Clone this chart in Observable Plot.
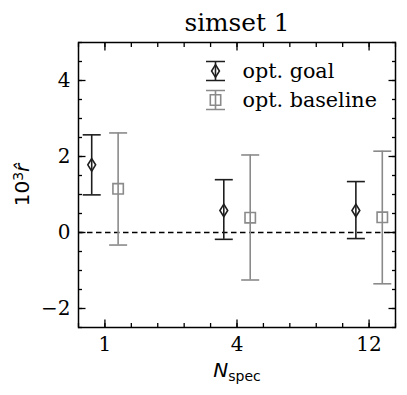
<!DOCTYPE html>
<html><head><meta charset="utf-8">
<script src="https://cdn.jsdelivr.net/npm/d3@7"></script>
<script src="https://cdn.jsdelivr.net/npm/@observablehq/plot@0.6"></script>
<style>body{margin:0;background:#fff}</style>
</head><body><div id="chart"></div>
<script>
// ---- data ----
const title = "simset 1";
const nspec = ["1", "4", "12"];
const series = ["opt. goal", "opt. baseline"];
const goalMid = [1.78, 0.58, 0.58];
const goalLo = [0.99, -0.18, -0.16];
const goalHi = [2.57, 1.39, 1.34];
const baseMid = [1.15, 0.39, 0.40];
const baseLo = [-0.33, -1.25, -1.35];
const baseHi = [2.62, 2.04, 2.14];
const yTicks = [-2, 0, 2, 4];

// ---- styling ----
const colors = ["#1e1e1e", "#8a8a8a"];
const dodge = [-0.1, 0.1];
const sw = 1.6;
const fs = 20;

const diamond = {draw(ctx, size) { const h = Math.sqrt(size / Math.PI), w = h * 0.62;
  ctx.moveTo(0, -h); ctx.lineTo(w, 0); ctx.lineTo(0, h); ctx.lineTo(-w, 0); ctx.closePath(); }};
const square = {draw(ctx, size) { const h = Math.sqrt(size / Math.PI); ctx.rect(-h, -h, 2 * h, 2 * h); }};
const cap = {draw(ctx, size) { const w = Math.sqrt(size / Math.PI); ctx.moveTo(-w, 0); ctx.lineTo(w, 0); }};
const errGlyph = {draw(ctx, size) { const w = Math.sqrt(size / Math.PI);
  ctx.moveTo(-w, -w); ctx.lineTo(w, -w); ctx.moveTo(0, -w); ctx.lineTo(0, w); ctx.moveTo(-w, w); ctx.lineTo(w, w); }};
const symbols = [diamond, square];
const symR = [6.3, 5.2];

const table = [
  {mid: goalMid, lo: goalLo, hi: goalHi},
  {mid: baseMid, lo: baseLo, hi: baseHi}
];

const marks = [];
// axes ticks (inward, mirrored)
const yMinor = d3.range(-2.5, 5.001, 0.5);
const xMinor = d3.range(-0.2, 2.2001, 0.2);
for (const a of ["left", "right"]) {
  marks.push(Plot.axisY({anchor: a, ticks: yMinor, tickSize: -4, fill: "none", label: null, strokeWidth: 1.3}));
  marks.push(Plot.axisY({anchor: a, ticks: yTicks, tickSize: -7.5, fill: "none", label: null, strokeWidth: 1.3}));
}
for (const a of ["bottom", "top"]) {
  marks.push(Plot.axisX({anchor: a, ticks: xMinor, tickSize: -4, fill: "none", label: null, strokeWidth: 1.3}));
  marks.push(Plot.axisX({anchor: a, ticks: [0, 1, 2], tickSize: -7.5, fill: "none", label: null, strokeWidth: 1.3}));
}
marks.push(Plot.axisY({anchor: "left", ticks: yTicks, tickSize: 0, tickPadding: 8, label: null,
  tickFormat: d => d < 0 ? "\u2212" + Math.abs(d) : String(d), fontSize: fs}));
marks.push(Plot.axisX({anchor: "bottom", ticks: [0, 1, 2], tickSize: 0, tickPadding: 9, label: null,
  tickFormat: i => nspec[i], fontSize: fs}));

marks.push(Plot.ruleY([0], {stroke: "black", strokeDasharray: "5.5,3.5", strokeWidth: 1.5}));

table.forEach((t, s) => {
  const rows = nspec.map((n, i) => ({x: i + dodge[s], mid: t.mid[i], lo: t.lo[i], hi: t.hi[i]}));
  marks.push(Plot.ruleX(rows, {x: "x", y1: "lo", y2: "hi", stroke: colors[s], strokeWidth: sw}));
  marks.push(Plot.dot(rows, {x: "x", y: "lo", symbol: cap, r: 9, stroke: colors[s], strokeWidth: sw}));
  marks.push(Plot.dot(rows, {x: "x", y: "hi", symbol: cap, r: 9, stroke: colors[s], strokeWidth: sw}));
  marks.push(Plot.dot(rows, {x: "x", y: "mid", symbol: symbols[s], r: symR[s], stroke: colors[s], fill: "none", strokeWidth: sw}));
  // legend entry
  const dy = 28.5 + 29 * s;
  marks.push(Plot.dot([series[s]], {frameAnchor: "top-left", dx: 137, dy, symbol: errGlyph, r: 9.5, stroke: colors[s], strokeWidth: sw}));
  marks.push(Plot.dot([series[s]], {frameAnchor: "top-left", dx: 137, dy, symbol: symbols[s], r: symR[s], stroke: colors[s], fill: "none", strokeWidth: sw}));
  marks.push(Plot.text([series[s]], {frameAnchor: "top-left", dx: 164, dy, text: d => d, textAnchor: "start",
    lineAnchor: "middle", fontSize: 20.7, fill: "black"}));
});

marks.push(Plot.frame({stroke: "black", strokeWidth: 1.5}));
marks.push(Plot.text([title], {frameAnchor: "top", dy: -19, text: d => d, lineAnchor: "middle", fontSize: 24.8, fill: "black"}));
marks.push(Plot.text(["10^3 r"], {frameAnchor: "left", dx: -56, rotate: -90, text: d => d, textAnchor: "middle",
  lineAnchor: "middle", fontSize: fs, fontFamily: "DejaVu Sans", fill: "black", className: "ylab"}));
marks.push(Plot.text(["N_spec"], {frameAnchor: "bottom", dy: 43, text: d => d, textAnchor: "middle",
  lineAnchor: "middle", fontSize: fs, fontFamily: "DejaVu Sans", fill: "black", className: "xlab"}));

const plot = Plot.plot({
  width: 407, height: 395,
  marginLeft: 78, marginRight: 12, marginTop: 42, marginBottom: 68,
  style: {fontFamily: "DejaVu Serif", fontSize: fs + "px", background: "white", color: "black"},
  x: {domain: [-0.2, 2.2]},
  y: {domain: [-2.5, 5]},
  marks
});
document.getElementById("chart").appendChild(plot);

// rich text for axis labels (superscript / subscript / italic)
const yl = d3.select(plot).select(".ylab text");
yl.text(null);
yl.append("tspan").text("10");
yl.append("tspan").attr("dy", "-0.42em").attr("font-size", "14px").text("3");
yl.append("tspan").attr("dy", "0.3em").attr("font-style", "italic").text("r\u0302");
const xl = d3.select(plot).select(".xlab text");
xl.text(null);
xl.append("tspan").attr("font-style", "italic").text("N");
xl.append("tspan").attr("dy", "0.3em").attr("font-size", "14px").text("spec");
</script>
</body></html>
